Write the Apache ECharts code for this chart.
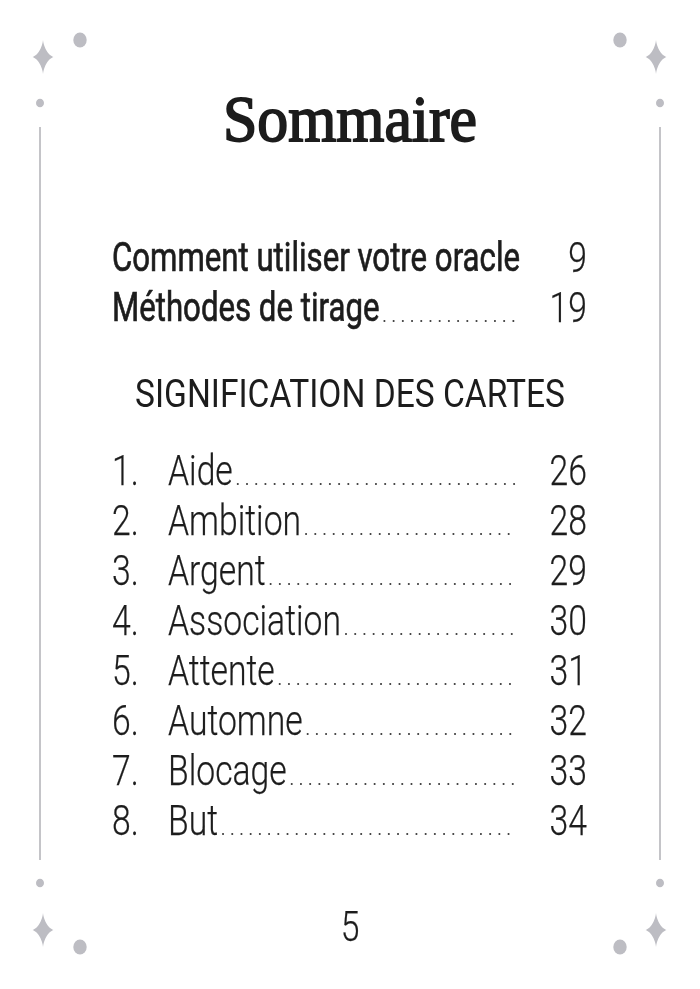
<!DOCTYPE html>
<html><head><meta charset="utf-8">
<script src="https://cdn.jsdelivr.net/npm/echarts@6/dist/echarts.min.js"></script>
<style>html,body{margin:0;padding:0;background:#fff}#c{width:700px;height:989px}</style>
</head><body><div id="c"></div>
<script>
// ---- content ----
const pageTitle = 'Sommaire';
const topEntries = ['Comment utiliser votre oracle', 'Méthodes de tirage'];
const topPages = ['9', '19'];
const sectionHeading = 'SIGNIFICATION DES CARTES';
const cardNumbers = ['1.', '2.', '3.', '4.', '5.', '6.', '7.', '8.'];
const cardNames = ['Aide', 'Ambition', 'Argent', 'Association', 'Attente', 'Automne', 'Blocage', 'But'];
const cardPages = ['26', '28', '29', '30', '31', '32', '33', '34'];
const folio = '5';

// ---- styling helpers ----
const SANS = 'Roboto';
const INK = '#1c1c1c';
const ORN = '#bdbdc3';
const mctx = document.createElement('canvas').getContext('2d');
function measure(text, weight, size, family) {
  mctx.font = weight + ' ' + size + 'px ' + family;
  return mctx.measureText(text).width;
}
const TOP = {w: 400, s: 41, b: 0.7};
const ITEM = {w: 300, s: 42, b: 0.25};
const HEAD = {w: 400, s: 38, b: 0};
const sxTop = 408 / measure(topEntries[0], TOP.w, TOP.s, SANS);
const sxItem = 173 / measure(cardNames[3], ITEM.w, ITEM.s, SANS);
const sxHead = 430 / measure(sectionHeading, HEAD.w, HEAD.s, SANS);
const TITLE = {w: 400, s: 65, b: 1.8, f: '"Liberation Serif", serif'};
const sxTitle = 254 / measure(pageTitle, TITLE.w, TITLE.s, TITLE.f);
const YSHIFT = 4;

function txt(text, x, y, f, sx, align, family) {
  return {
    type: 'text', x: x, y: y + YSHIFT, scaleX: sx, originX: 0, originY: 0,
    style: {text: text, fontSize: f.s, fontWeight: f.w, fontFamily: family || SANS,
            fill: INK, align: align, verticalAlign: 'middle',
            stroke: f.b ? INK : null, lineWidth: f.b || 0}
  };
}
function leader(x1, x2, y) {
  return {
    type: 'line', shape: {x1: x1, y1: y, x2: x2, y2: y},
    style: {stroke: '#3a3a3a', lineWidth: 2.1, lineDash: [0.01, 9.2], lineCap: 'round'}
  };
}
const LEADER_END = 515;

function makeRender(names, pages, numbers, font, sx, nameOffset) {
  return function (params, api) {
    const i = api.value(1);
    const l = api.coord([0, i]);
    const r = api.coord([1, i]);
    const cy = l[1];
    const nameX = l[0] + nameOffset;
    const children = [];
    if (numbers) children.push(txt(numbers[i], l[0], cy, font, sx, 'left'));
    children.push(txt(names[i], nameX, cy, font, sx, 'left'));
    children.push(txt(pages[i], r[0], cy, ITEM, sxItem, 'right'));
    const nameEnd = nameX + measure(names[i], font.w, font.s, SANS) * sx + 5;
    if (nameEnd < LEADER_END - 10) children.push(leader(nameEnd, LEADER_END, cy + 14));
    return {type: 'group', children: children};
  };
}

// ---- ornaments ----
function sparkle(cx, cy) {
  const pts = [];
  for (let k = 0; k < 96; k++) {
    const t = k / 96 * Math.PI * 2;
    const c = Math.cos(t), s = Math.sin(t);
    pts.push([cx + 11 * Math.sign(c) * Math.pow(Math.abs(c), 3.1),
              cy + 17.5 * Math.sign(s) * Math.pow(Math.abs(s), 3.1)]);
  }
  return {type: 'polygon', shape: {points: pts}, style: {fill: ORN}};
}
function dot(cx, cy, r, sy) {
  return {type: 'circle', x: cx, y: cy, scaleY: sy || 1, shape: {cx: 0, cy: 0, r: r}, style: {fill: ORN}};
}
const ornaments = [];
[[40, 43, 80], [660, 656, 620]].forEach(function (p) {
  const lx = p[0], sx = p[1], bx = p[2];
  ornaments.push(sparkle(sx, 57), dot(bx, 40, 6.7, 1.12), dot(lx, 103, 4, 1.08));
  ornaments.push({type: 'line', shape: {x1: lx, y1: 127, x2: lx, y2: 860}, style: {stroke: '#c4c4c8', lineWidth: 2}});
  ornaments.push(dot(lx, 883, 4, 1.08), sparkle(sx, 930), dot(bx, 947, 6.7, 1.12));
});

const chart = echarts.init(document.getElementById('c'), null, {renderer: 'canvas'});
chart.setOption({
  backgroundColor: '#ffffff',
  animation: false,
  grid: [
    {left: 112, right: 113, top: 232, height: 100},
    {left: 112, right: 113, top: 445, height: 400}
  ],
  xAxis: [
    {type: 'value', min: 0, max: 1, show: false, gridIndex: 0},
    {type: 'value', min: 0, max: 1, show: false, gridIndex: 1}
  ],
  yAxis: [
    {type: 'category', inverse: true, data: topEntries, show: false, gridIndex: 0},
    {type: 'category', inverse: true, data: cardNames, show: false, gridIndex: 1}
  ],
  graphic: {elements: ornaments.concat([
    txt(pageTitle, 350, 120, TITLE, sxTitle, 'center', TITLE.f),
    txt(sectionHeading, 350, 393, HEAD, sxHead, 'center'),
    txt(folio, 350, 926, ITEM, sxItem, 'center')
  ])},
  series: [
    {type: 'custom', xAxisIndex: 0, yAxisIndex: 0, silent: true,
     renderItem: makeRender(topEntries, topPages, null, TOP, sxTop, 0),
     data: topEntries.map(function (n, i) { return [0, i]; })},
    {type: 'custom', xAxisIndex: 1, yAxisIndex: 1, silent: true,
     renderItem: makeRender(cardNames, cardPages, cardNumbers, ITEM, sxItem, 56),
     data: cardNames.map(function (n, i) { return [0, i]; })}
  ]
});
</script></body></html>
